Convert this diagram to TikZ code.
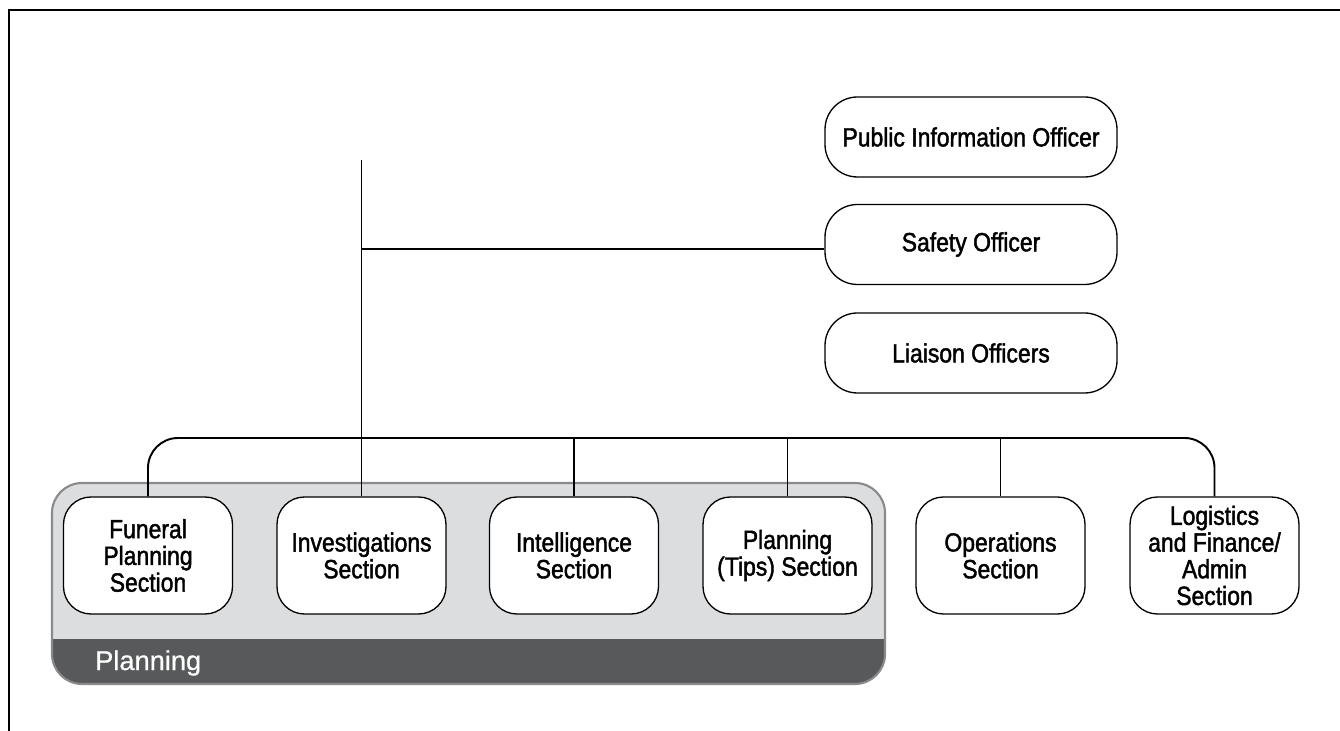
\documentclass[tikz,border=0pt]{standalone}
\usepackage{fontspec}
\setmainfont{Liberation Sans}[FakeStretch=0.87, FakeBold=1.6]
\newfontfamily\bandfont{Liberation Sans}[FakeBold=0.6]
\usetikzlibrary{positioning}
\definecolor{panelgrey}{HTML}{DCDDDF}
\definecolor{panelline}{HTML}{8A8A8C}
\definecolor{banddark}{HTML}{58595B}
\tikzset{
  officer/.style={draw, line width=0.75pt, rounded corners=0.65cm, fill=white,
    minimum width=5.84cm, minimum height=1.6cm, align=center,
    font=\fontsize{15}{15.2}\selectfont},
  section/.style={draw, line width=0.75pt, rounded corners=0.55cm, fill=white,
    minimum width=3.38cm, minimum height=2.34cm, align=center,
    font=\fontsize{15}{15.2}\selectfont},
  conn/.style={line width=1.1pt},
}
\begin{document}
\begin{tikzpicture}
  \useasboundingbox (0,0) rectangle (26.8,14.62);
  \draw[line width=1.1pt] (0.18,0) -- (0.18,14.42) -- (26.8,14.42);

  % planning panel
  \begin{scope}
    \clip[rounded corners=0.6cm] (1.04,0.94) rectangle (17.70,4.96);
    \fill[panelgrey] (1.04,0.94) rectangle (17.70,4.96);
    \fill[banddark] (1.04,0.94) rectangle (17.70,1.84);
  \end{scope}
  \draw[panelline, line width=1.2pt, rounded corners=0.6cm] (1.04,0.94) rectangle (17.70,4.96);
  \node[anchor=west, text=white, font=\bandfont\fontsize{15.5}{16}\selectfont] (planlabel) at (1.78,1.36) {Planning};

  % officers
  \node[officer] (pio) at (19.42,11.88) {Public Information Officer};
  \node[officer] (safety) at (19.42,9.73) {Safety Officer};
  \node[officer] (liaison) at (19.42,7.56) {Liaison Officers};

  % sections
  \node[section] (funeral) at (2.96,3.51) {Funeral\\Planning\\Section};
  \node[section] (invest) at (7.23,3.51) {Investigations\\Section};
  \node[section] (intel) at (11.48,3.51) {Intelligence\\Section};
  \node[section] (tips) at (15.75,3.51) {Planning\\(Tips) Section};
  \node[section] (ops) at (20.01,3.51) {Operations\\Section};
  \node[section] (logi) at (24.29,3.51) {Logistics\\and Finance/\\Admin\\Section};

  % lines
  \coordinate (trunk) at (7.23,11.42);
  \coordinate (bus) at (7.23,5.86);
  \draw[conn] (trunk) -- (invest.north);
  \draw[conn] ([yshift=-0.09cm]trunk |- safety.west) -- ([yshift=-0.09cm]safety.west);
  \draw[conn, rounded corners=0.6cm] (funeral.north) |- (bus) -| (logi.north);
  \draw[conn] (intel.north) -- (intel.north |- bus);
  \draw[conn] (tips.north) -- (tips.north |- bus);
  \draw[conn] (ops.north) -- (ops.north |- bus);
\end{tikzpicture}
\end{document}
